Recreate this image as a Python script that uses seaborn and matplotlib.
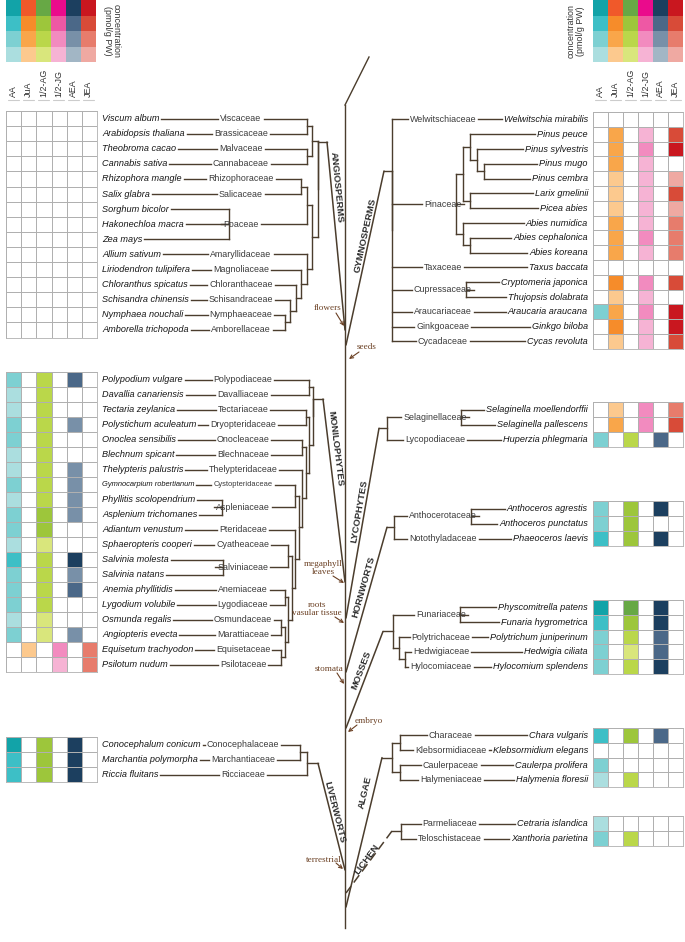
import numpy as np
import matplotlib.pyplot as plt
import seaborn as sns
from matplotlib.colors import ListedColormap

# Data
columns = ['AA', 'JuA', '1/2-AG', '1/2-JG', 'AEA', 'JEA']
# shades per column, level 1 (light) .. level 4 (dark)
shades = {
    'AA': ['#abdedf', '#7dd0d2', '#3dbfc6', '#12a3a8'],
    'JuA': ['#fcc98e', '#f9a64a', '#f68c2a', '#f0592a'],
    '1/2-AG': ['#d9e67c', '#bad74a', '#9dc63b', '#67a845'],
    '1/2-JG': ['#f6b3d4', '#f28bbf', '#ee58a4', '#ea0b8c'],
    'AEA': ['#a2b6c5', '#7890a8', '#4b6888', '#1c3f5f'],
    'JEA': ['#efa9a2', '#e77c6c', '#d84b38', '#c9171f'],
}
legend_levels = [4, 3, 2, 1]

angio_species = ['Viscum album', 'Arabidopsis thaliana', 'Theobroma cacao', 'Cannabis sativa',
                 'Rhizophora mangle', 'Salix glabra', 'Sorghum bicolor', 'Hakonechloa macra',
                 'Zea mays', 'Allium sativum', 'Liriodendron tulipifera', 'Chloranthus spicatus',
                 'Schisandra chinensis', 'Nymphaea nouchali', 'Amborella trichopoda']
angio_families = ['Viscaceae', 'Brassicaceae', 'Malvaceae', 'Cannabaceae', 'Rhizophoraceae',
                  'Salicaceae', 'Poaceae', 'Poaceae', 'Poaceae', 'Amaryllidaceae', 'Magnoliaceae',
                  'Chloranthaceae', 'Schisandraceae', 'Nymphaeaceae', 'Amborellaceae']
angio_levels = [[0, 0, 0, 0, 0, 0], [0, 0, 0, 0, 0, 0], [0, 0, 0, 0, 0, 0], [0, 0, 0, 0, 0, 0],
                [0, 0, 0, 0, 0, 0], [0, 0, 0, 0, 0, 0], [0, 0, 0, 0, 0, 0], [0, 0, 0, 0, 0, 0],
                [0, 0, 0, 0, 0, 0], [0, 0, 0, 0, 0, 0], [0, 0, 0, 0, 0, 0], [0, 0, 0, 0, 0, 0],
                [0, 0, 0, 0, 0, 0], [0, 0, 0, 0, 0, 0], [0, 0, 0, 0, 0, 0]]
angio_tree = ((('Viscaceae', 'Brassicaceae'), ('Malvaceae', 'Cannabaceae')),
              ((('Rhizophoraceae', 'Salicaceae'), 'Poaceae'),
               ('Amaryllidaceae', ('Magnoliaceae', ('Chloranthaceae',
                ('Schisandraceae', ('Nymphaeaceae', 'Amborellaceae')))))))

monilo_species = ['Polypodium vulgare', 'Davallia canariensis', 'Tectaria zeylanica',
                  'Polystichum aculeatum', 'Onoclea sensibilis', 'Blechnum spicant',
                  'Thelypteris palustris', 'Gymnocarpium robertianum', 'Phyllitis scolopendrium',
                  'Asplenium trichomanes', 'Adiantum venustum', 'Sphaeropteris cooperi',
                  'Salvinia molesta', 'Salvinia natans', 'Anemia phyllitidis', 'Lygodium volubile',
                  'Osmunda regalis', 'Angiopteris evecta', 'Equisetum trachyodon', 'Psilotum nudum']
monilo_families = ['Polypodiaceae', 'Davalliaceae', 'Tectariaceae', 'Dryopteridaceae',
                   'Onocleaceae', 'Blechnaceae', 'Thelypteridaceae', 'Cystopteridaceae',
                   'Aspleniaceae', 'Aspleniaceae', 'Pteridaceae', 'Cyatheaceae', 'Salviniaceae',
                   'Salviniaceae', 'Anemiaceae', 'Lygodiaceae', 'Osmundaceae', 'Marattiaceae',
                   'Equisetaceae', 'Psilotaceae']
monilo_levels = [[2, 0, 2, 0, 3, 0], [1, 0, 2, 0, 0, 0], [1, 0, 2, 0, 0, 0], [2, 0, 2, 0, 2, 0],
                 [2, 0, 2, 0, 0, 0], [1, 0, 2, 0, 0, 0], [1, 0, 2, 0, 2, 0], [2, 0, 2, 0, 2, 0],
                 [1, 0, 2, 0, 2, 0], [2, 0, 3, 0, 2, 0], [2, 0, 3, 0, 0, 0], [1, 0, 1, 0, 0, 0],
                 [3, 0, 2, 0, 4, 0], [2, 0, 2, 0, 2, 0], [2, 0, 2, 0, 3, 0], [2, 0, 2, 0, 0, 0],
                 [1, 0, 1, 0, 0, 0], [2, 0, 1, 0, 2, 0], [0, 1, 0, 2, 0, 2], [0, 0, 0, 1, 0, 2]]
monilo_tree = (('Polypodiaceae', 'Davalliaceae'),
               (('Tectariaceae', 'Dryopteridaceae'),
                (('Onocleaceae', 'Blechnaceae'),
                 ('Thelypteridaceae',
                  (('Cystopteridaceae', 'Aspleniaceae'),
                   ('Pteridaceae',
                    (('Cyatheaceae', 'Salviniaceae'),
                     (('Anemiaceae', 'Lygodiaceae'),
                      (('Osmundaceae', 'Marattiaceae'), ('Equisetaceae', 'Psilotaceae'))))))))))

liver_species = ['Conocephalum conicum', 'Marchantia polymorpha', 'Riccia fluitans']
liver_families = ['Conocephalaceae', 'Marchantiaceae', 'Ricciaceae']
liver_levels = [[4, 0, 3, 0, 4, 0], [3, 0, 3, 0, 4, 0], [3, 0, 3, 0, 4, 0]]
liver_tree = (('Conocephalaceae', 'Marchantiaceae'), 'Ricciaceae')

gymno_species = ['Welwitschia mirabilis', 'Pinus peuce', 'Pinus sylvestris', 'Pinus mugo',
                 'Pinus cembra', 'Larix gmelinii', 'Picea abies', 'Abies numidica',
                 'Abies cephalonica', 'Abies koreana', 'Taxus baccata', 'Cryptomeria japonica',
                 'Thujopsis dolabrata', 'Araucaria araucana', 'Ginkgo biloba', 'Cycas revoluta']
gymno_families = ['Welwitschiaceae'] + ['Pinaceae'] * 9 + ['Taxaceae', 'Cupressaceae',
                  'Cupressaceae', 'Araucariaceae', 'Ginkgoaceae', 'Cycadaceae']
gymno_levels = [[0, 0, 0, 0, 0, 0], [0, 2, 0, 1, 0, 3], [0, 2, 0, 2, 0, 4], [0, 2, 0, 1, 0, 0],
                [0, 1, 0, 1, 0, 1], [0, 1, 0, 1, 0, 3], [0, 1, 0, 1, 0, 1], [0, 2, 0, 1, 0, 2],
                [0, 2, 0, 2, 0, 2], [0, 2, 0, 1, 0, 2], [0, 0, 0, 0, 0, 0], [0, 3, 0, 2, 0, 3],
                [0, 1, 0, 1, 0, 0], [2, 2, 0, 2, 0, 4], [0, 3, 0, 1, 0, 4], [0, 1, 0, 1, 0, 3]]
gymno_tree = ('Welwitschiaceae', 'Pinaceae', 'Taxaceae', 'Cupressaceae', 'Araucariaceae',
              'Ginkgoaceae', 'Cycadaceae')
pinaceae_tree = ((('Pinus peuce', ('Pinus sylvestris', ('Pinus mugo', 'Pinus cembra'))),
                  ('Larix gmelinii', 'Picea abies')),
                 ('Abies numidica', ('Abies cephalonica', 'Abies koreana')))

lyco_species = ['Selaginella moellendorffii', 'Selaginella pallescens', 'Huperzia phlegmaria']
lyco_families = ['Selaginellaceae', 'Selaginellaceae', 'Lycopodiaceae']
lyco_levels = [[0, 1, 0, 2, 0, 2], [0, 2, 0, 2, 0, 3], [2, 0, 2, 0, 3, 0]]
lyco_tree = ('Selaginellaceae', 'Lycopodiaceae')

horn_species = ['Anthoceros agrestis', 'Anthoceros punctatus', 'Phaeoceros laevis']
horn_families = ['Anthocerotaceae', 'Anthocerotaceae', 'Notothyladaceae']
horn_levels = [[2, 0, 3, 0, 4, 0], [2, 0, 3, 0, 0, 0], [3, 0, 3, 0, 4, 0]]
horn_tree = ('Anthocerotaceae', 'Notothyladaceae')

moss_species = ['Physcomitrella patens', 'Funaria hygrometrica', 'Polytrichum juniperinum',
                'Hedwigia ciliata', 'Hylocomium splendens']
moss_families = ['Funariaceae', 'Funariaceae', 'Polytrichaceae', 'Hedwigiaceae', 'Hylocomiaceae']
moss_levels = [[4, 0, 4, 0, 4, 0], [3, 0, 3, 0, 4, 0], [2, 0, 2, 0, 3, 0], [2, 0, 1, 0, 3, 0],
               [2, 0, 2, 0, 4, 0]]
moss_tree = ('Funariaceae', ('Polytrichaceae', ('Hedwigiaceae', 'Hylocomiaceae')))

algae_species = ['Chara vulgaris', 'Klebsormidium elegans', 'Caulerpa prolifera',
                 'Halymenia floresii']
algae_families = ['Characeae', 'Klebsormidiaceae', 'Caulerpaceae', 'Halymeniaceae']
algae_levels = [[3, 0, 3, 0, 3, 0], [0, 0, 0, 0, 0, 0], [2, 0, 0, 0, 0, 0], [1, 0, 2, 0, 0, 0]]
algae_tree = (('Characeae', 'Klebsormidiaceae'), ('Caulerpaceae', 'Halymeniaceae'))

lichen_species = ['Cetraria islandica', 'Xanthoria parietina']
lichen_families = ['Parmeliaceae', 'Teloschistaceae']
lichen_levels = [[1, 0, 0, 0, 0, 0], [2, 0, 2, 0, 0, 0]]
lichen_tree = ('Parmeliaceae', 'Teloschistaceae')

# names printed in a smaller size because they are long
small_names = ['Gymnocarpium robertianum', 'Cystopteridaceae']

# Style
sns.set_theme(style='white')
plt.rcParams['font.family'] = ['Liberation Sans', 'DejaVu Sans']

W, H = 685, 942
INK = '#4b3d2d'
NOTE = '#6a3f22'
GRIDLINE = '#b0b0b0'
SP_SIZE, FAM_SIZE = 6.6, 6.4

fig = plt.figure(figsize=(W / 100, H / 100), dpi=100)
ax = fig.add_axes([0, 0, 1, 1])
ax.set_xlim(0, W)
ax.set_ylim(H, 0)
ax.set_axis_off()
renderer = fig.canvas.get_renderer()

colors = []
for col in columns:
    colors += ['white'] + shades[col]
cmap = ListedColormap(colors)


def heat(vals, x, y, w, h, lw=0.6):
    hax = fig.add_axes([x / W, 1 - (y + h) / H, w / W, h / H])
    codes = np.asarray(vals) + 5 * np.arange(len(columns))
    sns.heatmap(codes, ax=hax, cmap=cmap, vmin=-0.5, vmax=len(colors) - 0.5, cbar=False,
                linewidths=lw, linecolor=GRIDLINE, xticklabels=False, yticklabels=False)
    for s in hax.spines.values():
        s.set_visible(lw > 0)
        s.set_color(GRIDLINE)
        s.set_linewidth(lw)


def box(t):
    bb = t.get_window_extent(renderer=renderer)
    pts = ax.transData.inverted().transform([[bb.x0, bb.y0], [bb.x1, bb.y1]])
    return pts[0][0], pts[1][0]


def seg(x0, y0, x1, y1, **kw):
    ax.plot([x0, x1], [y0, y1], color=INK, lw=1.0, solid_capstyle='projecting', **kw)


def node_y(node, leaf_y):
    if isinstance(node, str):
        return leaf_y[node]
    ys = [node_y(c, leaf_y) for c in node]
    return (min(ys) + max(ys)) / 2


def draw_tree(node, x_root, dx, sgn, leaf_y, leaf_x, depth=0):
    if isinstance(node, str):
        return leaf_y[node], leaf_x[node]
    x = x_root + sgn * depth * dx
    kids = [draw_tree(c, x_root, dx, sgn, leaf_y, leaf_x, depth + 1) for c in node]
    ys = [k[0] for k in kids]
    for cy, cx in kids:
        seg(cx, cy, x, cy)
    seg(x, min(ys), x, max(ys))
    return (min(ys) + max(ys)) / 2, x


def section(side, species, families, levels, top, row_h, fam_cx, tree, root_x, dx,
            wedge_top_x, wedge_end, clade, clade_xy, stub_y=None, subtrees=None,
            dashed=False):
    subtrees = subtrees or {}
    left = side == 'L'
    sgn = -1 if left else 1
    ys = top + row_h * (np.arange(len(species)) + 0.5)
    sp_y = dict(zip(species, ys))
    heat(levels, 6 if left else 593, top, 91 if left else 90, row_h * len(species))
    sp_x = {}
    for s, y in sp_y.items():
        t = ax.text(102 if left else 588, y, s, ha='left' if left else 'right', va='center',
                    fontsize=5.4 if s in small_names else SP_SIZE, style='italic',
                    color='#151515')
        x0, x1 = box(t)
        sp_x[s] = x1 + 2 if left else x0 - 2
    fam_y, fam_x = {}, {}
    for fam in dict.fromkeys(families):
        members = [s for s, f in zip(species, families) if f == fam]
        sub = members[0] if len(members) == 1 else subtrees.get(fam, tuple(members))
        fy = node_y(sub, sp_y)
        t = ax.text(fam_cx, fy, fam, ha='center', va='center', color='#3a3a3a',
                    fontsize=5.4 if fam in small_names else FAM_SIZE)
        x0, x1 = box(t)
        near = x0 - 2 if left else x1 + 2
        far = x1 + 2 if left else x0 - 2
        if isinstance(sub, str):
            seg(sp_x[sub], fy, near, fy)
        else:
            _, rx = draw_tree(sub, near - sgn * 8, 7, sgn, sp_y, sp_x)
            seg(rx, fy, near, fy)
        fam_y[fam] = fy
        fam_x[fam] = far
    ry, rx = draw_tree(tree, root_x, dx, sgn, fam_y, fam_x)
    if stub_y is None:
        stub_y = ry
    seg(rx, ry, rx, stub_y)
    seg(rx, stub_y, wedge_top_x, stub_y)
    xe, ye = wedge_end
    ax.plot([wedge_top_x, xe], [stub_y, ye], color=INK, lw=1.1,
            ls=(0, (6, 3)) if dashed else '-')
    if left:
        ang = np.degrees(np.arctan2(-(ye - stub_y), xe - wedge_top_x))
    else:
        ang = np.degrees(np.arctan2(ye - stub_y, wedge_top_x - xe))
    ax.text(clade_xy[0], clade_xy[1], clade, rotation=ang, rotation_mode='anchor',
            ha='center', va='center', fontsize=6.8, fontweight='bold', color='#2b2b2b')


# Legends (concentration scale) on both sides
for lx in (6, 593):
    heat([[lv] * len(columns) for lv in legend_levels], lx, 0, 90, 62, lw=0)
    cw = 90 / len(columns)
    for i, name in enumerate(columns):
        ax.text(lx + (i + 0.5) * cw, 97, name, rotation=90, ha='center', va='bottom',
                fontsize=6.4, color='#333333')
        ax.plot([lx + i * cw + 2, lx + (i + 1) * cw - 2], [100, 100], color='#cccccc', lw=0.8)
ax.text(112, 31, 'concentration\n(pmol/g PW)', rotation=270, ha='center', va='center',
        fontsize=6.4, color='#333333', linespacing=1.0)
ax.text(576, 31, 'concentration\n(pmol/g PW)', rotation=90, ha='center', va='center',
        fontsize=6.4, color='#333333', linespacing=1.0)

# Main trunk
seg(345, 928, 345, 105)
seg(345, 105, 369, 57)

section('L', angio_species, angio_families, angio_levels, 111, 15.1, 241, angio_tree, 318, 5.5,
        327, (345, 330), 'ANGIOSPERMS', (337, 187), stub_y=142)
section('L', monilo_species, monilo_families, monilo_levels, 372, 15, 243, monilo_tree, 313,
        3.5, 323, (345, 582), 'MONILOPHYTES', (335, 448), stub_y=399)
section('L', liver_species, liver_families, liver_levels, 737, 15, 243, liver_tree, 307, 7,
        318, (345, 870), 'LIVERWORTS', (335, 812))
section('R', gymno_species, gymno_families, gymno_levels, 112, 14.8, 443, gymno_tree, 392, 7,
        384, (346, 345), 'GYMNOSPERMS', (365, 235), stub_y=171,
        subtrees={'Pinaceae': pinaceae_tree})
section('R', lyco_species, lyco_families, lyco_levels, 402, 15, 435, lyco_tree, 387, 7,
        379, (346, 618), 'LYCOPHYTES', (359, 511))
section('R', horn_species, horn_families, horn_levels, 501, 15, 443, horn_tree, 394, 7,
        387, (346, 672), 'HORNWORTS', (364, 587))
section('R', moss_species, moss_families, moss_levels, 600, 14.8, 441, moss_tree, 393, 6,
        383, (346, 728), 'MOSSES', (361, 670))
section('R', algae_species, algae_families, algae_levels, 728, 14.8, 451, algae_tree, 392, 8,
        382, (346, 907), 'ALGAE', (365, 792))
section('R', lichen_species, lichen_families, lichen_levels, 816, 15, 450, lichen_tree, 401, 7,
        392, (346, 893), 'LICHEN', (367, 859), dashed=True)

# Evolutionary innovations along the trunk
notes = [('flowers', (341, 308), 'right', (336, 313), (344, 326)),
         ('seeds', (357, 347), 'left', (359, 352), (349, 359)),
         ('megaphyll\nleaves', (323, 568), 'center', (333, 576), (344, 583)),
         ('roots\nvasular tissue', (317, 609), 'center', (335, 617), (344, 623)),
         ('stomata', (343, 669), 'right', (337, 673), (344, 684)),
         ('embryo', (355, 721), 'left', (357, 725), (348, 732)),
         ('terrestrial', (342, 860), 'right', (336, 863), (343, 869))]
for label, (tx, ty), ha, start, end in notes:
    ax.text(tx, ty, label, ha=ha, va='center', fontsize=6.6, family='Liberation Serif',
            color=NOTE, linespacing=0.85, multialignment='center')
    ax.annotate('', xy=end, xytext=start,
                arrowprops=dict(arrowstyle='->', color=NOTE, lw=0.8, shrinkA=0, shrinkB=0,
                                mutation_scale=6))

fig.savefig('out.png', dpi=100)
